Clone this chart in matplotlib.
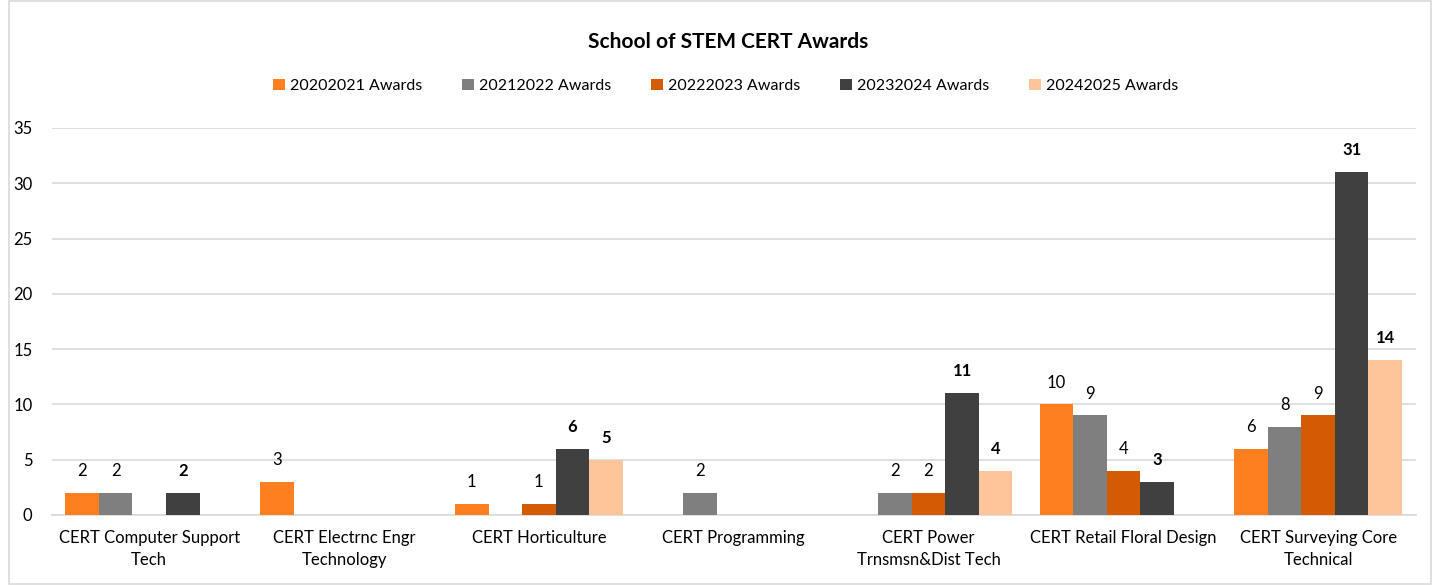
import matplotlib
matplotlib.use("Agg")
import matplotlib.pyplot as plt
import numpy as np
from matplotlib.patches import Rectangle

plt.rcParams['font.family'] = ['Lato', 'DejaVu Sans']

categories = [
    "CERT Computer Support\nTech",
    "CERT Electrnc Engr\nTechnology",
    "CERT Horticulture",
    "CERT Programming",
    "CERT Power\nTrnsmsn&Dist Tech",
    "CERT Retail Floral Design",
    "CERT Surveying Core\nTechnical",
]
series_names = ["20202021 Awards", "20212022 Awards", "20222023 Awards",
                "20232024 Awards", "20242025 Awards"]
awards_2021 = [2, 3, 1, 0, 0, 10, 6]
awards_2122 = [2, 0, 0, 2, 2, 9, 8]
awards_2223 = [0, 0, 1, 0, 2, 4, 9]
awards_2324 = [2, 0, 6, 0, 11, 3, 31]
awards_2425 = [0, 0, 5, 0, 4, 0, 14]
y_ticks = [0, 5, 10, 15, 20, 25, 30, 35]

series = [awards_2021, awards_2122, awards_2223, awards_2324, awards_2425]
colors = ["#FD7F1F", "#7F7F7F", "#D35B04", "#404040", "#FFC59A"]
bold_labels = [False, False, False, True, True]

fig = plt.figure(figsize=(14.4, 5.85), dpi=100)
fig.patches.append(Rectangle((0.006, 0.002), 0.988, 0.996, transform=fig.transFigure,
                             fill=False, edgecolor="#D9D9D9", linewidth=1.2))
ax = fig.add_axes([0.036, 0.1197, 0.947, 0.6615])

x = np.arange(len(categories))
width = 0.172
for i, (vals, col, bold) in enumerate(zip(series, colors, bold_labels)):
    offs = (i - 2) * width
    ax.bar(x + offs, vals, width, color=col, label=series_names[i], zorder=3)
    for xi, v in zip(x, vals):
        if v == 0:
            continue
        ax.annotate(str(v), (xi + offs, v), xytext=(0, 10), textcoords="offset points",
                    ha="center", va="bottom", fontsize=12,
                    fontweight="bold" if bold else "normal", color="#000000")

ax.set_xlim(-0.5, len(categories) - 0.5)
ax.set_ylim(0, 35)
ax.set_yticks(y_ticks)
ax.yaxis.grid(True, color="#D9D9D9", linewidth=1.2, zorder=0)
ax.set_axisbelow(True)
for s in ["left", "right", "top"]:
    ax.spines[s].set_visible(False)
ax.spines["bottom"].set_color("#D9D9D9")
ax.spines["bottom"].set_linewidth(1.2)
ax.tick_params(axis="both", length=0, labelsize=12, colors="#000000")
ax.tick_params(axis="y", pad=14)
ax.tick_params(axis="x", pad=11)
ax.set_xticks(x)
ax.set_xticklabels(categories, linespacing=1.45)

fig.text(0.5055, 0.928, "School of STEM CERT Awards", ha="center", va="center",
         fontsize=15, fontweight="bold")
fig.legend(loc="center", bbox_to_anchor=(0.504, 0.853), ncol=5, frameon=False,
           fontsize=11.5, handlelength=0.75, handleheight=0.75, handletextpad=0.3,
           columnspacing=2.5)

fig.savefig("out.png", dpi=100)
